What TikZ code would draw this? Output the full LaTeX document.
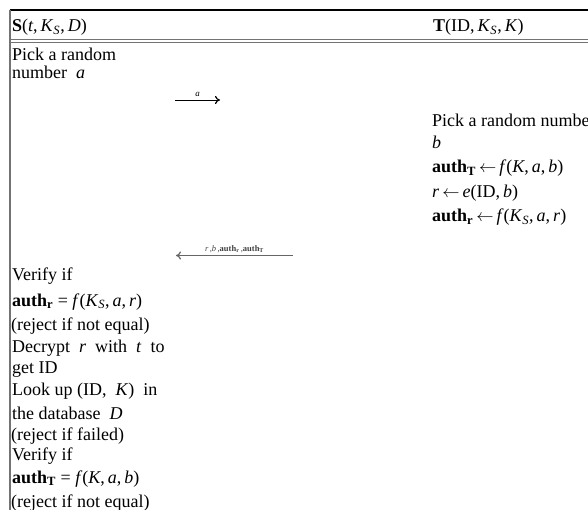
\documentclass[tikz,border=0pt]{standalone}
\usepackage{fontspec}
\setmainfont{Liberation Serif}
\usetikzlibrary{arrows.meta}
\newcommand\iv[1]{\textit{#1}}
\newcommand\authr{\textbf{auth}\textsubscript{\textbf{r}}}
\newcommand\autht{\textbf{auth}\textsubscript{\textbf{T}}}
\newcommand\larr{\,$\leftarrow$\,}
\tikzset{
  txt/.style={anchor=base west, inner sep=0pt, font=\fontsize{18}{21}\selectfont},
  lbl/.style={anchor=base, inner sep=0pt},
  rule/.style={line width=1.4pt, draw=black},
  grule/.style={line width=1.2pt, draw=black!55},
  msg/.style={line width=0.9pt, -{To[length=5pt,width=8pt,line width=1.2pt]}}
}
\begin{document}
\begin{tikzpicture}[x=1pt,y=-1pt]
\useasboundingbox (0,0) rectangle (588,510);
\clip (0,0) rectangle (588,510);
% table rules
\coordinate (tl) at (10,10);
\coordinate (tr) at (588,10);
\coordinate (bl) at (10,510);
\draw[rule] (tl) -- (tr);
\draw[grule] (tl) -- (bl);
\draw[grule] (10,39.5) -- (588,39.5);
\draw[grule] (10,42.3) -- (588,42.3);
% headers
\node[txt] (hs) at (12,32) {\textbf{S}(\iv{t},\,\iv{K}\textsubscript{\iv{S}},\,\iv{D})};
\node[txt] (ht) at (433,32) {\textbf{T}(ID,\,\iv{K}\textsubscript{\iv{S}},\,\iv{K})};
% S side, first block
\node[txt] (s1) at (12,61) {Pick a random};
\node[txt] (s2) at (12,79) {number \ \iv{a}};
% message a
\coordinate (m1s) at (175,100);
\coordinate (m1e) at (220,100);
\draw[msg] (m1s) -- node[lbl, above=2.5pt, font=\fontsize{9}{10}\selectfont] (m1l) {\iv{a}} (m1e);
% T side
\node[txt] (t1) at (432,127) {Pick a random number};
\node[txt] (t2) at (432,149) {\iv{b}};
\node[txt] (t3) at (432,173) {\autht\larr\iv{f}(\iv{K},\,\iv{a},\,\iv{b})};
\node[txt] (t4) at (432,198) {\iv{r}\larr\iv{e}(ID,\,\iv{b})};
\node[txt] (t5) at (432,222) {\authr\larr\iv{f}(\iv{K}\textsubscript{\iv{S}},\,\iv{a},\,\iv{r})};
% message back
\coordinate (m2s) at (293,255.5);
\coordinate (m2e) at (176,255.5);
\draw[msg, draw=black!60] (m2s) -- node[lbl, above=2.5pt, font=\fontsize{8.5}{10}\selectfont, text=black!75] (m2l) {\iv{r}\,,\iv{b}\,,\textbf{auth}\textsubscript{\textbf{r}}\,,\textbf{auth}\textsubscript{\textbf{T}}} (m2e);
% S side, verification
\node[txt] (v1) at (12,280) {Verify if};
\node[txt] (v2) at (12,306) {\authr\ = \iv{f}(\iv{K}\textsubscript{\iv{S}},\,\iv{a},\,\iv{r})};
\node[txt] (v3) at (11,330) {(reject if not equal)};
\node[txt] (v4) at (12,352) {Decrypt \ \iv{r} \ with \ \iv{t} \ to};
\node[txt] (v5) at (12,373) {get ID};
\node[txt] (v6) at (12,395) {Look up (ID, \ \iv{K}) \ in};
\node[txt] (v7) at (12,419) {the database \ \iv{D}};
\node[txt] (v8) at (11,440) {(reject if failed)};
\node[txt] (v9) at (12,460) {Verify if};
\node[txt] (v10) at (12,483) {\autht\ = \iv{f}(\iv{K},\,\iv{a},\,\iv{b})};
\node[txt] (v11) at (11,507) {(reject if not equal)};
\end{tikzpicture}
\end{document}
